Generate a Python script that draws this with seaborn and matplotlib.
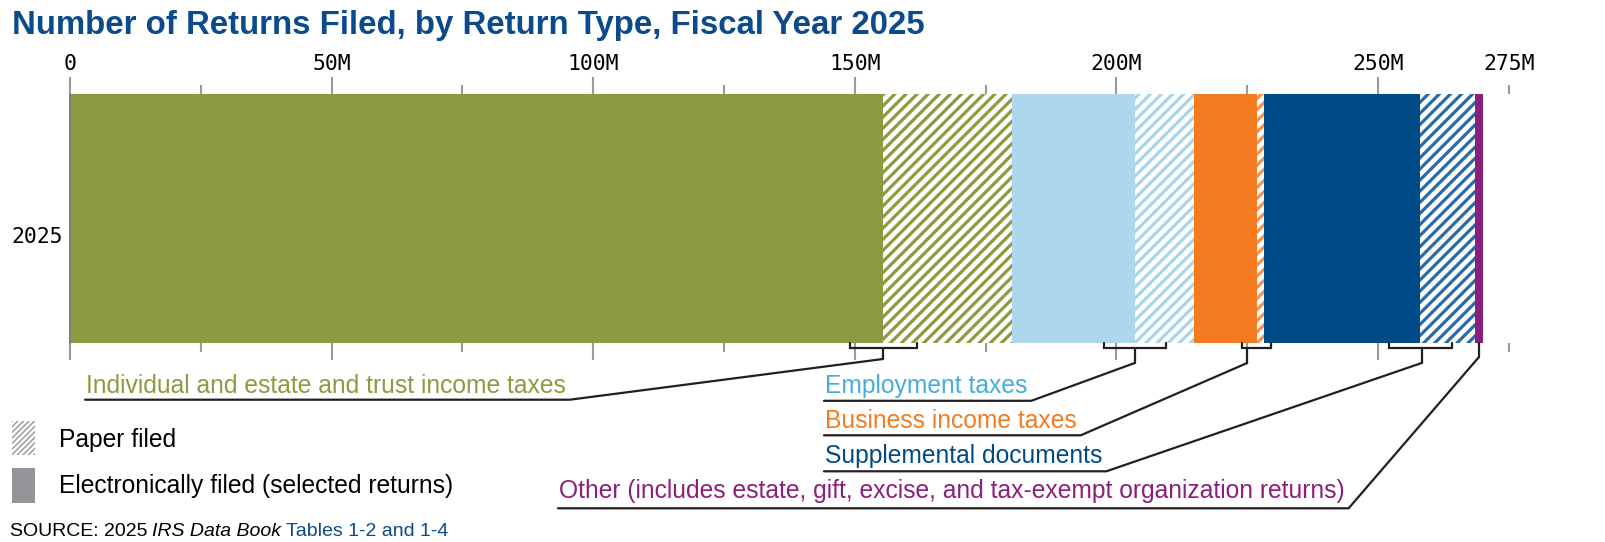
import matplotlib
matplotlib.use("Agg")
import matplotlib.pyplot as plt
import pandas as pd
import seaborn as sns
from matplotlib.lines import Line2D
from matplotlib.patches import Rectangle
from matplotlib.ticker import FixedLocator, FuncFormatter

# ---- data (millions of returns) ----
year = "2025"
categories = [
    "Individual and estate and trust income taxes",
    "Employment taxes",
    "Business income taxes",
    "Supplemental documents",
    "Other (includes estate, gift, excise, and tax-exempt organization returns)",
]
efiled_m = [155.4, 23.4, 12.0, 29.8, 1.5]
paper_m = [24.7, 11.3, 1.45, 10.5, 0.0]
major_ticks = [0, 50, 100, 150, 200, 250]
minor_ticks = [25, 75, 125, 175, 225, 275]

bar_colors = ["#8d9a40", "#aed7ed", "#f47b20", "#004a86", "#8b1f7c"]
hatch_colors = ["#8d9a40", "#a9d4ec", "#f7924a", "#2a6aa6", "#8b1f7c"]
text_colors = ["#8d9a40", "#46ace0", "#f47b20", "#004a86", "#8b1f7c"]

# ---- annotation layout (pixels from top-left) ----
label_x = [86, 825, 825, 825, 559]
label_base = [392.7, 393.3, 428.3, 463.3, 498.3]
underline_gap = [7.0, 7.5, 7.0, 8.0, 10.0]
bracket_half = [6.4, 5.9, 2.8, 6.0, 0.0]
stem_shift = [0.0, 0.0, -1.8, 0.3, 0.0]
stem_drop = [359, 363, 363, 363, 357]

W, H = 1605, 542
BAR_TOP, BAR_BOT = 94.3, 343.3
LABEL_PT = 17.7

sns.set_theme(style="white")
plt.rcParams["font.family"] = ["Liberation Sans", "DejaVu Sans"]
plt.rcParams["hatch.linewidth"] = 2.3

fig = plt.figure(figsize=(W / 100, H / 100), dpi=100)
ax = fig.add_axes([70 / W, 1 - BAR_BOT / H, 275 * 5.232 / W, (BAR_BOT - BAR_TOP) / H])

rows = []
left = 0.0
cat_left = []
for i, cat in enumerate(categories):
    cat_left.append(left)
    for kind, val in (("Electronically filed", efiled_m[i]), ("Paper filed", paper_m[i])):
        if val <= 0:
            continue
        paper = kind == "Paper filed"
        rows.append(dict(year=year, category=cat, kind=kind, value=val, left=left,
                         color=hatch_colors[i] if paper else bar_colors[i]))
        left += val
seg = pd.DataFrame(rows)

for _, r in seg.iterrows():
    paper = r["kind"] == "Paper filed"
    sns.barplot(
        x=[r["value"]], y=[r["year"]], left=r["left"], orient="h", width=1.0,
        errorbar=None, ax=ax, color=r["color"],
        facecolor="white" if paper else r["color"], edgecolor=r["color"],
        hatch="///" if paper else None, linewidth=0,
    )

ax.set_xlim(0, 275)
ax.set_ylim(0.5, -0.5)
ax.set_xlabel("")
ax.set_ylabel("")
# the year label sits a little below the bar's middle in the original
ax.set_yticks([0.064], labels=[year])
for s in ["top", "right", "bottom"]:
    ax.spines[s].set_visible(False)
ax.spines["left"].set_color("#808080")
ax.spines["left"].set_linewidth(1.5)

ax.xaxis.set_major_locator(FixedLocator(major_ticks))
ax.xaxis.set_minor_locator(FixedLocator(minor_ticks))
ax.xaxis.set_major_formatter(FuncFormatter(lambda v, _: "0" if v == 0 else f"{v:.0f}M"))
ax.xaxis.set_minor_formatter(FuncFormatter(lambda v, _: f"{v:.0f}M" if v == 275 else ""))
ax.tick_params(axis="x", which="both", top=True, bottom=True, labeltop=True, labelbottom=False,
               direction="out", color="#9a9a9a", width=1.5, labelsize=15.4,
               labelfontfamily="DejaVu Sans Mono", labelcolor="black")
ax.tick_params(axis="x", which="major", length=12.5, pad=2.2)
ax.tick_params(axis="x", which="minor", length=6.3, pad=8.6)
ax.tick_params(axis="y", length=0, pad=5, labelsize=15.4, labelfontfamily="DejaVu Sans Mono",
               labelcolor="black")

# title
fig.text(11.7 / W, 1 - 34.3 / H, "Number of Returns Filed, by Return Type, Fiscal Year 2025",
         fontsize=23.8, fontweight="bold", color="#0b4a8b", va="baseline", ha="left")


def px_line(xs, ys):
    fig.add_artist(Line2D([x / W for x in xs], [1 - y / H for y in ys], transform=fig.transFigure,
                          color="#231f20", lw=1.6, solid_joinstyle="miter"))


def data_px(v):
    return ax.transData.transform((v, 0))[0]


labels = []
for i, cat in enumerate(categories):
    t = fig.text(label_x[i] / W, 1 - label_base[i] / H, cat, fontsize=LABEL_PT,
                 color=text_colors[i], va="baseline", ha="left")
    labels.append(t)

fig.canvas.draw()
renderer = fig.canvas.get_renderer()

for i, t in enumerate(labels):
    bb = t.get_window_extent(renderer)
    corner = bb.x1 + 4
    ul_y = label_base[i] + underline_gap[i]
    if paper_m[i] > 0:
        bx = cat_left[i] + efiled_m[i]
    else:
        bx = cat_left[i] + efiled_m[i] / 2
    sx = data_px(bx + stem_shift[i])
    if bracket_half[i] > 0:
        x0, x1 = data_px(bx - bracket_half[i]), data_px(bx + bracket_half[i])
        px_line([x0, x0, x1, x1], [BAR_BOT, 347.7, 347.7, BAR_BOT])
        px_line([sx, sx], [347.7, stem_drop[i]])
    else:
        px_line([sx, sx], [BAR_BOT, stem_drop[i]])
    px_line([sx, corner, label_x[i] - 1], [stem_drop[i], ul_y, ul_y])

# legend
with plt.rc_context({"hatch.linewidth": 1.0}):
    fig.add_artist(Rectangle((12 / W, 1 - 455 / H), 23 / W, 34 / H, transform=fig.transFigure,
                             facecolor="white", edgecolor="#939598", hatch="//////", lw=0))
fig.add_artist(Rectangle((12 / W, 1 - 503 / H), 23 / W, 35 / H, transform=fig.transFigure,
                         facecolor="#939598", edgecolor="none", lw=0))
fig.text(59 / W, 1 - 447 / H, "Paper filed", fontsize=LABEL_PT, color="black", va="baseline")
fig.text(59 / W, 1 - 493 / H, "Electronically filed (selected returns)", fontsize=LABEL_PT,
         color="black", va="baseline")

# source line
src_y = 1 - 536 / H
t1 = fig.text(10 / W, src_y, "SOURCE: 2025", fontsize=14, color="black", va="baseline")
fig.canvas.draw()
x = t1.get_window_extent(renderer).x1 + 5
t2 = fig.text(x / W, src_y, "IRS Data Book", fontsize=14, style="italic", color="black", va="baseline")
fig.canvas.draw()
x = t2.get_window_extent(renderer).x1 + 5
fig.text(x / W, src_y, "Tables 1-2 and 1-4", fontsize=14, color="#0b4a8b", va="baseline")

fig.savefig("out.png", dpi=100)
plt.close(fig)
